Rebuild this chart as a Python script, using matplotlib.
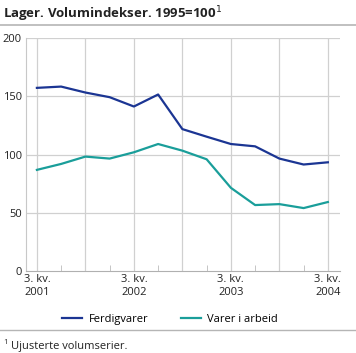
import numpy as np
import matplotlib
matplotlib.use("Agg")
import matplotlib.pyplot as plt
from matplotlib.lines import Line2D

# kvartaler 3. kv. 2001 - 3. kv. 2004
kvartaler = ["2001K3", "2001K4", "2002K1", "2002K2", "2002K3", "2002K4", "2003K1",
             "2003K2", "2003K3", "2003K4", "2004K1", "2004K2", "2004K3"]
ferdigvarer = [157.3, 158.4, 153.3, 149.3, 141.3, 151.6, 121.9,
               115.4, 109.1, 107.1, 96.6, 91.5, 93.4]
varer_i_arbeid = [86.9, 92.0, 98.3, 96.6, 102.0, 109.1, 103.4,
                  96.0, 71.5, 56.7, 57.5, 54.1, 59.3]
xlabels = ["3. kv.\n2001", "3. kv.\n2002", "3. kv.\n2003", "3. kv.\n2004"]
yticks = [0, 50, 100, 150, 200]

plt.rcParams['font.family'] = ['Open Sans', 'DejaVu Sans']

fig = plt.figure(figsize=(3.56, 3.53), dpi=100)
ax = fig.add_axes([0.073, 0.232, 0.882, 0.660])

x = np.arange(len(kvartaler))
ax.plot(x, ferdigvarer, color="#1b3593", lw=1.6, label="Ferdigvarer")
ax.plot(x, varer_i_arbeid, color="#1a9e9a", lw=1.6, label="Varer i arbeid")

ax.set_xlim(-0.45, 12.5)
ax.set_ylim(0, 200)
ax.set_yticks(yticks)
ax.set_xticks(x[::4])
ax.set_xticklabels(xlabels, fontsize=8, color="#222222", linespacing=1.25)
ax.set_xticks(x[1::2], minor=True)
ax.tick_params(axis="y", labelsize=8, length=0, pad=3, colors="#222222")
ax.tick_params(axis="x", which="both", length=0, pad=2)
ax.tick_params(axis="x", which="minor", direction="in", length=4, color="#bbbbbb")

for v in yticks[1:]:
    ax.axhline(v, color="#d0d0d0", lw=0.9, zorder=0)
for xi in x[::2]:
    ax.axvline(xi, color="#d0d0d0", lw=0.9, zorder=0)

for s in ["top", "right"]:
    ax.spines[s].set_visible(False)
ax.spines["left"].set_color("#c8c8c8")
ax.spines["bottom"].set_color("#b0b0b0")

# tittel
fig.text(0.008, 0.96, "Lager. Volumindekser. 1995=100$^1$", fontsize=9.5,
         fontweight="bold", ha="left", va="center", color="#222222")
fig.add_artist(Line2D([0, 1], [0.929, 0.929], color="#b5b5b5", lw=1.2))

handles = [Line2D([0], [0], color="#1b3593", lw=1.6),
           Line2D([0], [0], color="#1a9e9a", lw=1.6)]
fig.legend(handles, ["Ferdigvarer", "Varer i arbeid"], loc="center",
           bbox_to_anchor=(0.478, 0.096), ncol=2, frameon=False, fontsize=8,
           handlelength=1.8, columnspacing=2.9, handletextpad=0.6)

fig.add_artist(Line2D([0, 1], [0.064, 0.064], color="#b5b5b5", lw=1.0))
fig.text(0.008, 0.03, "1", fontsize=5.5, ha="left", va="center", color="#222222")
fig.text(0.03, 0.018, "Ujusterte volumserier.", fontsize=8, ha="left",
         va="center", color="#222222")

fig.savefig("out.png", dpi=100)
